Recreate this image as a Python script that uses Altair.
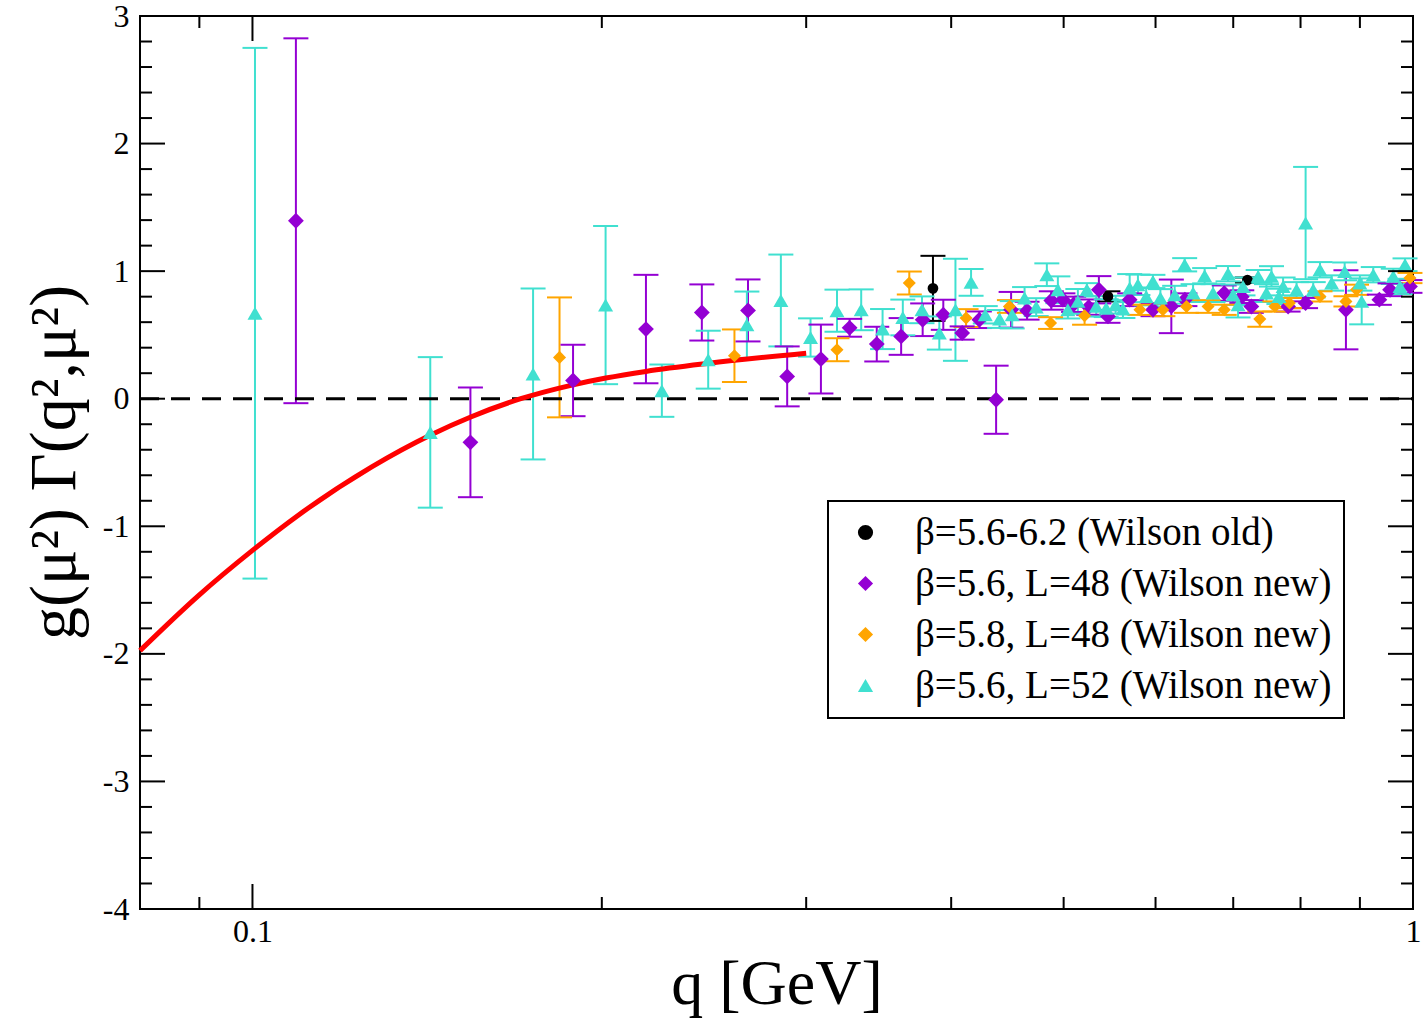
import altair as alt
import pandas as pd

# ---------------- data ----------------
SERIES = [
    "β=5.6-6.2 (Wilson old)",
    "β=5.6, L=48 (Wilson new)",
    "β=5.8, L=48 (Wilson new)",
    "β=5.6, L=52 (Wilson new)",
]
COLORS = ["#000000", "#9400D3", "#FFA500", "#40E0D0"]
SHAPES = ["circle", "diamond", "diamond", "triangle-up"]
SIZES = [115, 250, 170, 225]

# beta = 5.6-6.2, Wilson old
old_q = [0.3858, 0.5459, 0.72]
old_g = [0.865, 0.802, 0.93]
old_e = [0.255, 0.04, 0.02]

# beta = 5.6, L = 48
b56l48_q = [0.1090, 0.1541, 0.1889, 0.2183, 0.2439, 0.2673, 0.2889, 0.3089, 0.327,
            0.3451, 0.3622, 0.3780, 0.3938, 0.4088, 0.4230, 0.4373, 0.4505, 0.465,
            0.4879, 0.4993, 0.51, 0.5255, 0.5362, 0.546, 0.570, 0.597, 0.6191, 0.636,
            0.6876, 0.712, 0.7256, 0.7805, 0.808, 0.8754, 0.9354, 0.9555, 0.994]
b56l48_g = [1.395, -0.342, 0.143, 0.546, 0.676, 0.692, 0.175, 0.311, 0.556,
            0.428, 0.488, 0.619, 0.658, 0.515, 0.619, -0.008, 0.697, 0.69,
            0.77, 0.776, 0.74, 0.718, 0.854, 0.645, 0.776, 0.697, 0.724, 0.776,
            0.828, 0.80, 0.723, 0.723, 0.75, 0.697, 0.776, 0.854, 0.88]
b56l48_e = [1.43, 0.43, 0.28, 0.425, 0.22, 0.243, 0.235, 0.27, 0.07,
            0.136, 0.144, 0.128, 0.118, 0.052, 0.065, 0.267, 0.14, 0.07,
            0.072, 0.05, 0.06, 0.06, 0.107, 0.05, 0.05, 0.05, 0.21, 0.05,
            0.06, 0.05, 0.05, 0.04, 0.04, 0.31, 0.04, 0.05, 0.05]

# beta = 5.8, L = 48
b58l48_q = [0.1839, 0.2602, 0.3189, 0.3681, 0.4120, 0.449, 0.4872, 0.5212, 0.5817,
            0.6088, 0.638, 0.6659, 0.6876, 0.7379, 0.7603, 0.7826, 0.8315, 0.8754,
            0.894, 0.994]
b58l48_g = [0.324, 0.337, 0.384, 0.907, 0.632, 0.723, 0.593, 0.65, 0.697,
            0.697, 0.723, 0.723, 0.697, 0.624, 0.723, 0.75, 0.802, 0.763,
            0.854, 0.946]
b58l48_e = [0.47, 0.206, 0.09, 0.09, 0.07, 0.05, 0.046, 0.07, 0.04,
            0.05, 0.05, 0.05, 0.04, 0.06, 0.04, 0.04, 0.04, 0.04,
            0.04, 0.04]

# beta = 5.6, L = 52
b56l52_q = [0.1005, 0.1423, 0.1745, 0.2015, 0.2253, 0.2470, 0.2667, 0.2853, 0.3026,
            0.3189, 0.3346, 0.3491, 0.3634, 0.3775, 0.3907, 0.4034, 0.4161, 0.4280,
            0.4403, 0.4515, 0.4627, 0.4735, 0.4836, 0.4943, 0.5042, 0.5143, 0.5236,
            0.5334, 0.544, 0.5543, 0.5624, 0.5700, 0.5794, 0.5890, 0.5969, 0.6058,
            0.6232, 0.6357, 0.6464, 0.6614, 0.6725, 0.6928, 0.6998, 0.7067, 0.7137,
            0.7355, 0.7477, 0.7552, 0.7664, 0.7728, 0.7937, 0.8081, 0.8204, 0.8315,
            0.8509, 0.8732, 0.900, 0.9032, 0.9242, 0.9616, 0.9746, 0.9843]
b56l52_g = [0.67, -0.264, 0.194, 0.734, 0.063, 0.306, 0.58, 0.77, 0.48,
            0.69, 0.697, 0.546, 0.637, 0.697, 0.515, 0.697, 0.912, 0.658,
            0.625, 0.658, 0.789, 0.718, 0.972, 0.854, 0.697, 0.763, 0.854,
            0.724, 0.71, 0.737, 0.703, 0.867, 0.893, 0.802, 0.919, 0.789,
            0.815, 1.05, 0.828, 0.964, 0.828, 0.98, 0.815, 0.737, 0.88,
            0.959, 0.828, 0.959, 0.802, 0.88, 0.854, 1.377, 0.854, 1.011,
            0.907, 0.998, 0.907, 0.763, 0.972, 0.959, 0.88, 1.05]
b56l52_e = [2.08, 0.59, 0.67, 0.62, 0.205, 0.227, 0.26, 0.36, 0.15,
            0.165, 0.16, 0.157, 0.14, 0.105, 0.13, 0.4, 0.105, 0.068,
            0.07, 0.107, 0.086, 0.07, 0.089, 0.105, 0.068, 0.097, 0.052,
            0.08, 0.07, 0.07, 0.07, 0.11, 0.08, 0.07, 0.052, 0.07,
            0.07, 0.052, 0.07, 0.06, 0.07, 0.06, 0.08, 0.1, 0.07,
            0.05, 0.07, 0.08, 0.06, 0.07, 0.06, 0.44, 0.06, 0.06,
            0.06, 0.07, 0.06, 0.18, 0.06, 0.06, 0.06, 0.05]

# infrared curve
curve_q = [0.08, 0.0898, 0.1, 0.1096, 0.1267, 0.1424, 0.1542, 0.1703, 0.1885,
           0.2016, 0.2183, 0.2465, 0.3000]
curve_g = [-1.975, -1.545, -1.189, -0.911, -0.534, -0.284, -0.143, 0.0, 0.107,
           0.162, 0.214, 0.276, 0.357]

# axis ticks
x_major = [0.1, 1.0]
x_minor = [0.09, 0.2, 0.3, 0.4, 0.5, 0.6, 0.7, 0.8, 0.9]
y_major = [-4, -3, -2, -1, 0, 1, 2, 3]
y_minor = [round(m + 0.2 * k, 1) for m in y_major[:-1] for k in range(1, 5)]

# ---------------- tables ----------------
parts = []
for name, col, sz, qs, gs, es in zip(
    SERIES, COLORS, SIZES,
    [old_q, b56l48_q, b58l48_q, b56l52_q],
    [old_g, b56l48_g, b58l48_g, b56l52_g],
    [old_e, b56l48_e, b58l48_e, b56l52_e],
):
    parts.append(pd.DataFrame({"q": qs, "g": gs, "err": es,
                               "series": name, "col": col, "sz": sz}))
df = pd.concat(parts, ignore_index=True)
df["lo"] = df["g"] - df["err"]
df["hi"] = df["g"] + df["err"]

curve = pd.DataFrame({"q": curve_q, "g": curve_g})

W, H = 1273, 893
FONT = "Liberation Serif"

xs = alt.Scale(type="log", domain=[0.08, 1.0], nice=False)
ys = alt.Scale(domain=[-4, 3], nice=False, zero=False)

x_axis = alt.Axis(
    values=x_major, labelExpr="datum.value == 1 ? '1' : '0.1'",
    ticks=False, domain=False, grid=False, labelFlush=False, labelOverlap=False,
    labelFont=FONT, labelFontSize=32, labelPadding=7, labelColor="black",
    title="q [GeV]", titleFont=FONT, titleFontSize=64, titleFontWeight="normal",
    titleColor="black", titleX=W / 2, titleY=94, titleBaseline="alphabetic",
)
y_axis = alt.Axis(
    values=y_major, labelExpr="'' + datum.value",
    ticks=False, domain=False, grid=False, labelFlush=False, labelOverlap=False,
    labelFont=FONT, labelFontSize=32, labelPadding=11, labelColor="black",
    title="g(μ²) Γ(q²,μ²)", titleFont=FONT, titleFontSize=66, titleFontWeight="normal",
    titleColor="black", titleX=-66, titleY=446, titleAngle=-90,
    titleBaseline="alphabetic", titleAlign="center",
)


def X(field):
    return alt.X(field, type="quantitative", scale=xs, axis=x_axis)


def Y(field):
    return alt.Y(field, type="quantitative", scale=ys, axis=y_axis)


legend = alt.Legend(
    title=None, orient="none", legendX=688, legendY=485,
    strokeColor="black", fillColor="white", padding=12,
    labelFont=FONT, labelFontSize=39, labelLimit=900, labelColor="black",
    symbolSize=230, symbolOffset=6, labelOffset=30, rowPadding=11,
    symbolStrokeWidth=0,
)

base = alt.Chart(df)

bars = base.mark_rule(strokeWidth=2).encode(
    x=X("q"), y=Y("lo"), y2="hi:Q",
    color=alt.Color("col:N", scale=None),
)
caps_lo = base.mark_point(shape="M-1,0L1,0", size=625, strokeWidth=2, opacity=1).encode(
    x=X("q"), y=Y("lo"), color=alt.Color("col:N", scale=None),
)
caps_hi = base.mark_point(shape="M-1,0L1,0", size=625, strokeWidth=2, opacity=1).encode(
    x=X("q"), y=Y("hi"), color=alt.Color("col:N", scale=None),
)

zero = alt.Chart(pd.DataFrame({"g": [0.0]})).mark_rule(
    color="black", strokeWidth=3, strokeDash=[19, 12]
).encode(y=Y("g"), x=alt.value(0), x2=alt.value(W))

fit = alt.Chart(curve).mark_line(color="#FF0000", strokeWidth=5, interpolate="monotone").encode(
    x=X("q"), y=Y("g"),
)

points = base.mark_point(filled=True, opacity=1).encode(
    x=X("q"), y=Y("g"),
    color=alt.Color("series:N", scale=alt.Scale(domain=SERIES, range=COLORS), legend=legend),
    shape=alt.Shape("series:N", scale=alt.Scale(domain=SERIES, range=SHAPES), legend=legend),
    size=alt.Size("sz:Q", scale=None),
)


def y_ticks(vals, length):
    d = alt.Chart(pd.DataFrame({"v": vals}))
    left = d.mark_rule(color="black", strokeWidth=2).encode(
        y=Y("v"), x=alt.value(0), x2=alt.value(length))
    right = d.mark_rule(color="black", strokeWidth=2).encode(
        y=Y("v"), x=alt.value(W), x2=alt.value(W - length))
    return [left, right]


def x_ticks(vals, length):
    d = alt.Chart(pd.DataFrame({"v": vals}))
    bottom = d.mark_rule(color="black", strokeWidth=2).encode(
        x=X("v"), y=alt.value(H), y2=alt.value(H - length))
    top = d.mark_rule(color="black", strokeWidth=2).encode(
        x=X("v"), y=alt.value(0), y2=alt.value(length))
    return [bottom, top]


ticks = y_ticks(y_major, 25) + y_ticks(y_minor, 12) + x_ticks(x_major, 25) + x_ticks(x_minor, 12)

chart = alt.layer(bars, caps_lo, caps_hi, zero, fit, points, *ticks).properties(
    width=W, height=H,
    autosize=alt.AutoSizeParams(type="none"),
    padding={"left": 140, "top": 16, "right": 12, "bottom": 112},
    background="white",
).configure_view(
    stroke="black", strokeWidth=2
).configure_legend(
    strokeWidth=2
)

chart.save("out.html", embed_options={"renderer": "svg", "actions": False})
